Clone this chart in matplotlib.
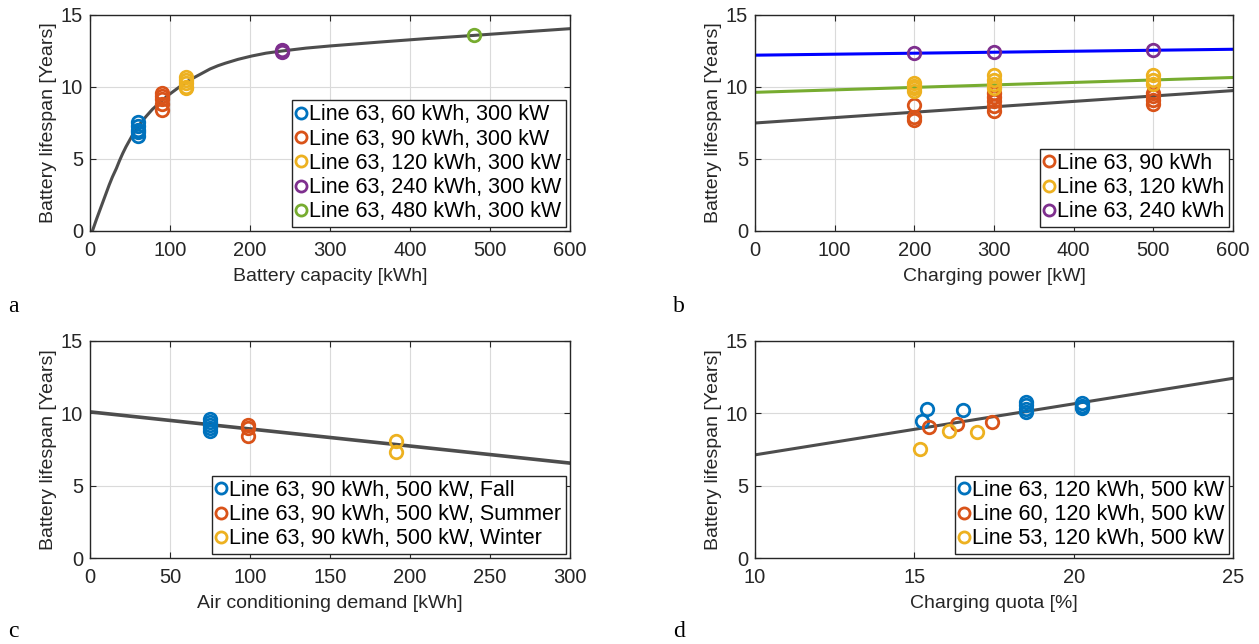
import numpy as np
import matplotlib.pyplot as plt

plt.rcParams['font.family'] = ['Liberation Sans', 'DejaVu Sans']

# MATLAB default colour order
blue = '#0072BD'
orange = '#D95319'
yellow = '#EDB120'
purple = '#7E2F8E'
green = '#77AC30'
fitgray = '#4d4d4d'

# ---- panel a: battery capacity ----
capA = {
    '60': [7.6, 7.3, 7.0, 6.9, 6.6],
    '90': [9.6, 9.4, 9.2, 8.8, 8.4],
    '120': [10.7, 10.5, 10.3, 10.0, 9.9],
    '240': [12.4, 12.55],
    '480': [13.6],
}
capA_x = [60, 90, 120, 240, 480]
capA_labels = ['Line 63, 60 kWh, 300 kW', 'Line 63, 90 kWh, 300 kW',
               'Line 63, 120 kWh, 300 kW', 'Line 63, 240 kWh, 300 kW',
               'Line 63, 480 kWh, 300 kW']
curveA_x = [3, 8, 12, 16, 20, 24, 28, 33, 37, 41, 45, 49, 53, 58, 62, 70, 78, 88, 97,
            108, 119, 130, 140, 150, 160, 169, 185, 202, 220, 240, 270, 300, 362, 420, 479, 540, 600]
curveA_y = [0, 0.8, 1.4, 2.0, 2.6, 3.2, 3.75, 4.35, 4.9, 5.4, 5.85, 6.25, 6.65, 7.05, 7.4,
            7.95, 8.45, 8.95, 9.4, 9.85, 10.3, 10.65, 10.95, 11.25, 11.48, 11.65, 11.92,
            12.15, 12.35, 12.5, 12.7, 12.85, 13.12, 13.36, 13.58, 13.82, 14.05]

# ---- panel b: charging power ----
powB_x = [200, 300, 500]
powB_90 = [[8.75, 7.9, 7.7], [9.6, 9.3, 9.0, 8.7, 8.35], [9.6, 9.4, 9.1, 8.8]]
powB_120 = [[10.3, 10.1, 9.9, 9.7], [10.8, 10.5, 10.2, 9.9], [10.8, 10.5, 10.2]]
powB_240 = [[12.35], [12.46], [12.56]]
powB_labels = ['Line 63, 90 kWh', 'Line 63, 120 kWh', 'Line 63, 240 kWh']
fitB_x = [0, 600]
fitB_90 = [7.5, 9.75]
fitB_120 = [9.63, 10.66]
fitB_240 = [12.21, 12.62]

# ---- panel c: air conditioning ----
acC_x = [75, 99, 191]
acC_y = [[9.6, 9.4, 9.2, 9.0, 8.8], [9.2, 9.0, 8.4], [8.1, 7.35]]
acC_labels = ['Line 63, 90 kWh, 500 kW, Fall', 'Line 63, 90 kWh, 500 kW, Summer',
              'Line 63, 90 kWh, 500 kW, Winter']
fitC_x = [0, 300]
fitC_y = [10.1, 6.56]

# ---- panel d: charging quota ----
quotaD_63_x = [15.23, 15.41, 16.54, 18.49, 18.49, 18.49, 18.49, 20.25, 20.25, 20.25]
quotaD_63_y = [9.46, 10.33, 10.26, 10.78, 10.55, 10.33, 10.1, 10.7, 10.5, 10.4]
quotaD_60_x = [15.46, 16.35, 17.43]
quotaD_60_y = [9.03, 9.25, 9.41]
quotaD_53_x = [15.19, 16.09, 16.96]
quotaD_53_y = [7.52, 8.78, 8.68]
quotaD_labels = ['Line 63, 120 kWh, 500 kW', 'Line 60, 120 kWh, 500 kW', 'Line 53, 120 kWh, 500 kW']
fitD_x = [10, 25]
fitD_y = [7.13, 12.42]

W, H = 1259, 644
fig = plt.figure(figsize=(W / 100, H / 100), dpi=100)


def make_ax(left, top, right, bottom):
    ax = fig.add_axes([left / W, 1 - bottom / H, (right - left) / W, (bottom - top) / H])
    ax.grid(True, color='#dadada', linewidth=0.8)
    ax.set_axisbelow(True)
    for s in ax.spines.values():
        s.set_color('#262626')
        s.set_linewidth(1.0)
    ax.tick_params(direction='in', length=4, width=0.8, labelsize=14.5, colors='#262626',
                   top=True, right=True)
    ax.tick_params(axis='x', pad=7)
    ax.tick_params(axis='y', pad=5)
    ax.set_ylim(0, 15)
    ax.set_yticks([0, 5, 10, 15])
    ax.set_ylabel('Battery lifespan [Years]', fontsize=14, color='#262626', labelpad=3)
    return ax


mk = dict(marker='o', linestyle='none', markersize=9, markeredgewidth=2, markerfacecolor='none')
leg_kw = dict(fontsize=15.5, handlelength=0.45, handletextpad=0.15, borderpad=0.2,
              labelspacing=0.15, fancybox=False, framealpha=1, edgecolor='#262626',
              borderaxespad=0.2)
xlab_kw = dict(fontsize=14, color='#262626', labelpad=6)


def style_legend(lg):
    lg.get_frame().set_linewidth(1.0)
    for h in lg.legend_handles:
        h.set_markersize(8)


# panel a
ax = make_ax(90, 15, 570, 231)
ax.plot(curveA_x, curveA_y, color=fitgray, linewidth=2.2, zorder=2)
for xv, key, col, lab in zip(capA_x, capA, [blue, orange, yellow, purple, green], capA_labels):
    ys = capA[key]
    ax.plot([xv] * len(ys), ys, color=col, markeredgecolor=col, label=lab, zorder=3, **mk)
ax.set_xlim(0, 600)
ax.set_xticks(range(0, 601, 100))
ax.set_xlabel('Battery capacity [kWh]', **xlab_kw)
style_legend(ax.legend(loc='lower right', **leg_kw))

# panel b
ax = make_ax(755, 15, 1233, 231)
ax.plot(fitB_x, fitB_90, color=fitgray, linewidth=2.2, zorder=2)
ax.plot(fitB_x, fitB_120, color=green, linewidth=2.2, zorder=2)
ax.plot(fitB_x, fitB_240, color='#0000ff', linewidth=2.2, zorder=2)
for data, col, lab in zip([powB_90, powB_120, powB_240], [orange, yellow, purple], powB_labels):
    xs = [x for x, ys in zip(powB_x, data) for _ in ys]
    ys = [y for ys in data for y in ys]
    ax.plot(xs, ys, color=col, markeredgecolor=col, label=lab, zorder=3, **mk)
ax.set_xlim(0, 600)
ax.set_xticks(range(0, 601, 100))
ax.set_xlabel('Charging power [kW]', **xlab_kw)
style_legend(ax.legend(loc='lower right', **leg_kw))

# panel c
ax = make_ax(90, 341, 570, 558)
ax.plot(fitC_x, fitC_y, color=fitgray, linewidth=2.6, zorder=2)
for xv, ys, col, lab in zip(acC_x, acC_y, [blue, orange, yellow], acC_labels):
    ax.plot([xv] * len(ys), ys, color=col, markeredgecolor=col, label=lab, zorder=3, **mk)
ax.set_xlim(0, 300)
ax.set_xticks(range(0, 301, 50))
ax.set_xlabel('Air conditioning demand [kWh]', **xlab_kw)
style_legend(ax.legend(loc='lower right', **leg_kw))

# panel d
ax = make_ax(755, 341, 1233, 558)
ax.plot(fitD_x, fitD_y, color=fitgray, linewidth=2.2, zorder=2)
ax.plot(quotaD_63_x, quotaD_63_y, color=blue, markeredgecolor=blue, label=quotaD_labels[0], zorder=3, **mk)
ax.plot(quotaD_60_x, quotaD_60_y, color=orange, markeredgecolor=orange, label=quotaD_labels[1], zorder=3, **mk)
ax.plot(quotaD_53_x, quotaD_53_y, color=yellow, markeredgecolor=yellow, label=quotaD_labels[2], zorder=3, **mk)
ax.set_xlim(10, 25)
ax.set_xticks([10, 15, 20, 25])
ax.set_xlabel('Charging quota [%]', **xlab_kw)
style_legend(ax.legend(loc='lower right', **leg_kw))

# panel letters
for txt, px, py in [('a', 8, 312), ('b', 673, 312), ('c', 8, 637), ('d', 673, 637)]:
    fig.text(px / W, 1 - py / H, txt, fontsize=17, family='Liberation Serif', color='black')

fig.savefig('out.png', dpi=100)
